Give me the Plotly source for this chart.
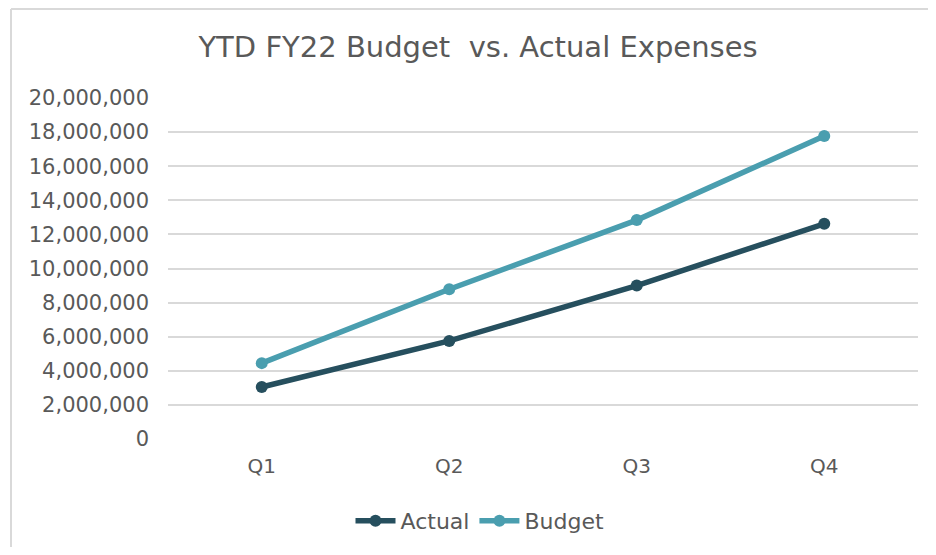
import plotly.graph_objects as go

quarters = ["Q1", "Q2", "Q3", "Q4"]
actual = [3050000, 5750000, 9000000, 12620000]
budget = [4450000, 8780000, 12840000, 17770000]
y_ticks = list(range(0, 20000001, 2000000))

FONT = "DejaVu Sans"
GREY = "#595959"
OFF = 8  # page body margin

fig = go.Figure()
fig.add_trace(go.Scatter(
    x=quarters, y=actual, name="Actual", mode="lines+markers",
    line=dict(color="#264F5E", width=5.5),
    marker=dict(color="#264F5E", size=12),
))
fig.add_trace(go.Scatter(
    x=quarters, y=budget, name="Budget", mode="lines+markers",
    line=dict(color="#4A9EAF", width=5.5),
    marker=dict(color="#4A9EAF", size=12),
))

W, H = 920, 539
L, T = 168 - OFF, 98 - OFF
R = W - (918 - OFF)
B = H - (439 - OFF)
pw, ph = W - L - R, H - T - B

def px_x(x):
    return (x - OFF - L) / pw

def px_y(y):
    return (H - B - (y - OFF)) / ph

shapes = [
    dict(type="line", xref="paper", yref="paper",
         x0=px_x(11), x1=px_x(1000), y0=px_y(9), y1=px_y(9),
         line=dict(color="#D9D9D9", width=2)),
    dict(type="line", xref="paper", yref="paper",
         x0=px_x(11), x1=px_x(11), y0=px_y(9), y1=px_y(700),
         line=dict(color="#D9D9D9", width=2)),
]

fig.update_layout(
    width=W, height=H,
    margin=dict(l=L, r=R, t=T, b=B, autoexpand=False),
    paper_bgcolor="white", plot_bgcolor="white",
    title=dict(text="YTD FY22 Budget  vs. Actual Expenses",
               font=dict(family=FONT, size=29, color=GREY),
               x=(478 - OFF) / W, xanchor="center",
               y=1 - (47 - OFF) / H, yanchor="middle"),
    font=dict(family=FONT, color=GREY),
    showlegend=True,
    legend=dict(orientation="h", x=px_x(480), xanchor="center",
                y=px_y(521), yanchor="middle",
                font=dict(family=FONT, size=22, color=GREY),
                itemwidth=40),
    shapes=shapes,
)
fig.update_xaxes(
    range=[-0.5, 3.5],
    showgrid=False, showline=False, zeroline=False,
    tickfont=dict(family=FONT, size=20, color=GREY),
    ticklabelstandoff=13,
)
fig.update_yaxes(
    range=[0, 20000000], tickvals=y_ticks, tickformat=",d",
    showgrid=True, gridcolor="#D9D9D9", gridwidth=2,
    zeroline=False, showline=False,
    tickfont=dict(family=FONT, size=21, color=GREY),
    ticklabelstandoff=18,
)

fig.write_html("out.html")
